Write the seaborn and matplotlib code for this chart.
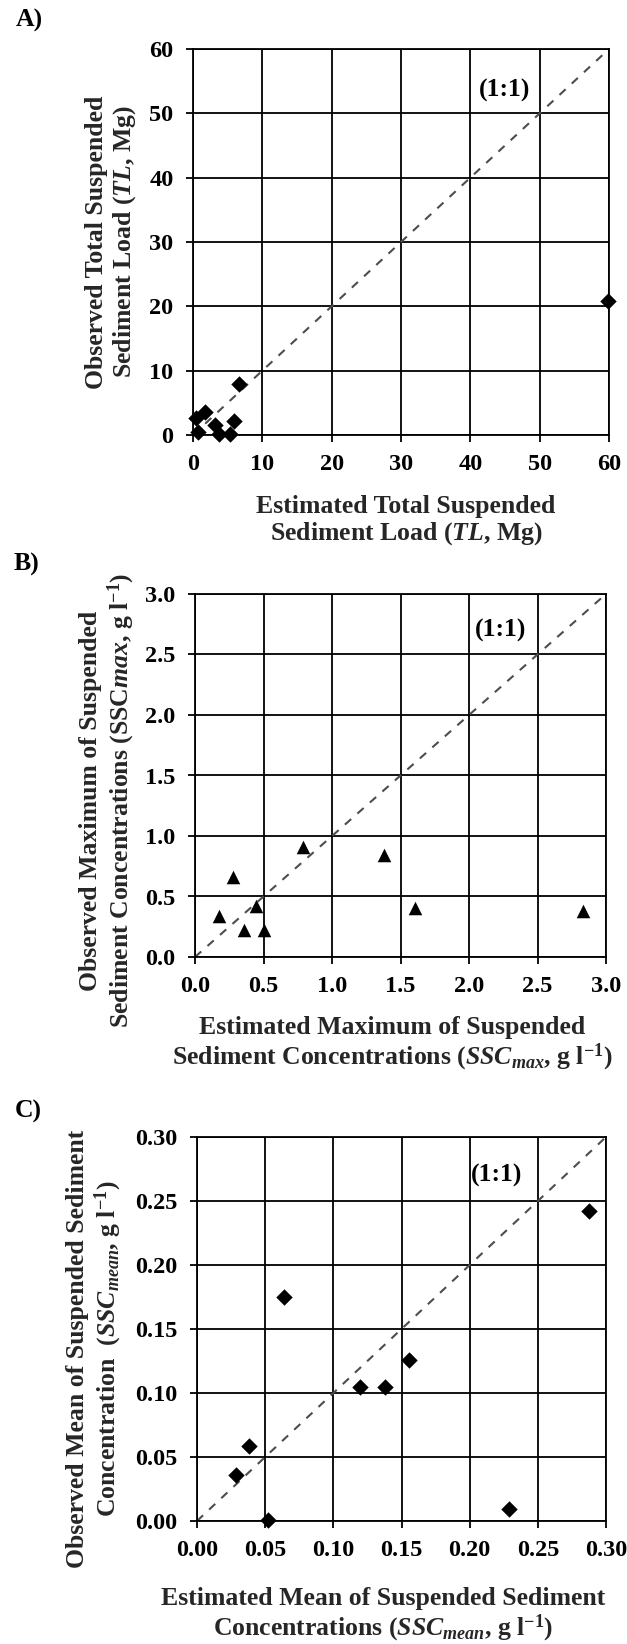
import matplotlib
matplotlib.use("Agg")
import matplotlib.pyplot as plt
import seaborn as sns
import pandas as pd
from matplotlib.ticker import FormatStrFormatter

# ---------------- data ----------------
a_est = [59.9, 6.7, 1.8, 0.4, 0.7, 3.2, 3.8, 5.4, 5.9]
a_obs = [20.8, 7.9, 3.5, 2.6, 0.5, 1.6, 0.2, 0.1, 2.1]

b_est = [0.175, 0.277, 0.356, 0.444, 0.502, 0.789, 1.379, 1.607, 2.834]
b_obs = [0.335, 0.660, 0.222, 0.423, 0.222, 0.912, 0.844, 0.409, 0.379]

c_est = [0.0285, 0.0379, 0.052, 0.0637, 0.1195, 0.1377, 0.1553, 0.2287, 0.2876]
c_obs = [0.0359, 0.0588, 0.0005, 0.1753, 0.1049, 0.1049, 0.1256, 0.0097, 0.2421]

panel_letters = ["A)", "B)", "C)"]
a_ticks = [0, 10, 20, 30, 40, 50, 60]
b_ticks = [0.0, 0.5, 1.0, 1.5, 2.0, 2.5, 3.0]
c_ticks = [0.00, 0.05, 0.10, 0.15, 0.20, 0.25, 0.30]

a_xlabel = "Estimated Total Suspended\nSediment Load ($\\mathit{TL}$, Mg)"
a_ylabel = "Observed Total Suspended\nSediment Load ($\\mathit{TL}$, Mg)"
b_xlabel = ("Estimated Maximum of Suspended\n"
            "Sediment Concentrations ($\\mathit{SSC}_{\\mathit{max}}$, g l$^{-1}$)")
b_ylabel = ("Observed Maximum of Suspended\n"
            "Sediment Concentrations (SSC$\\mathit{max}$, g l$^{-1}$)")
c_xlabel = ("Estimated Mean of Suspended Sediment\n"
            "Concentrations ($\\mathit{SSC}_{\\mathit{mean}}$, g l$^{-1}$)")
c_ylabel = ("Observed Mean of Suspended Sediment\n"
            "Concentration  ($\\mathit{SSC}_{\\mathit{mean}}$, g l$^{-1}$)")

# ---------------- style ----------------
sns.set_theme(style="ticks")
plt.rcParams["font.family"] = ["Liberation Serif", "DejaVu Serif"]
plt.rcParams["font.weight"] = "bold"
plt.rcParams["axes.labelweight"] = "bold"
plt.rcParams["mathtext.fontset"] = "custom"
plt.rcParams["mathtext.rm"] = "Liberation Serif:bold"
plt.rcParams["mathtext.bf"] = "Liberation Serif:bold"
plt.rcParams["mathtext.it"] = "Liberation Serif:italic:bold"

fig = plt.figure(figsize=(6.27, 16.44), dpi=100)
W, H = 627.0, 1644.0

def make_ax(left, right, top, bottom):
    return fig.add_axes([left / W, 1 - bottom / H, (right - left) / W, (bottom - top) / H])

axA = make_ax(193, 609, 49, 435)
axB = make_ax(195, 606, 594, 957)
axC = make_ax(197, 606, 1137, 1521)

LW = 1.3
TICK_FS = 17.5
LAB_FS = 18.5

panels = [
    (axA, a_est, a_obs, "D", 70, a_ticks, "%d", a_xlabel, a_ylabel,
     (0.512, -0.155), (-0.132, 0.50), (45, 53.5)),
    (axB, b_est, b_obs, "^", 95, b_ticks, "%.1f", b_xlabel, b_ylabel,
     (0.479, -0.163), (-0.141, 0.43), (2.23, 2.70)),
    (axC, c_est, c_obs, "D", 70, c_ticks, "%.2f", c_xlabel, c_ylabel,
     (0.455, -0.172), (-0.178, 0.448), (0.22, 0.270)),
]

for (ax, xe, yo, mk, sz, ticks, fmt, xl, yl, xlpos, ylpos, txtpos) in panels:
    lo, hi = ticks[0], ticks[-1]
    ax.set_xlim(lo, hi)
    ax.set_ylim(lo, hi)
    ax.set_xticks(ticks)
    ax.set_yticks(ticks)
    ax.xaxis.set_major_formatter(FormatStrFormatter(fmt))
    ax.yaxis.set_major_formatter(FormatStrFormatter(fmt))
    ax.grid(True, color="black", linewidth=LW)
    ax.set_axisbelow(True)
    for sp in ax.spines.values():
        sp.set_color("black")
        sp.set_linewidth(LW)
    ax.tick_params(axis="both", direction="out", length=5, width=LW,
                   color="black", labelsize=TICK_FS, labelcolor="black", pad=9)
    for lab in ax.get_xticklabels() + ax.get_yticklabels():
        lab.set_fontweight("bold")

    # 1:1 line
    ax.plot([lo, hi], [lo, hi], color="#4d4d4d", linewidth=1.5,
            linestyle=(0, (4, 4)), zorder=2)
    ax.text(txtpos[0], txtpos[1], "(1:1)", ha="center", va="center",
            fontsize=LAB_FS, fontweight="bold", color="black", zorder=3)

    df = pd.DataFrame({"est": xe, "obs": yo})
    sns.scatterplot(data=df, x="est", y="obs", marker=mk, s=sz, color="black",
                    edgecolor="black", linewidth=0, ax=ax, zorder=5, clip_on=False,
                    legend=False)

    ax.set_xlabel(xl, fontsize=LAB_FS, fontweight="bold", linespacing=1.1)
    ax.set_ylabel(yl, fontsize=LAB_FS, fontweight="bold", linespacing=1.15)
    ax.xaxis.set_label_coords(*xlpos)
    ax.yaxis.set_label_coords(*ylpos)

# panel letters
for letter, (px, py) in zip(panel_letters, [(16, 20), (14, 564), (15, 1111)]):
    fig.text(px / W, 1 - py / H, letter, ha="left", va="center",
             fontsize=LAB_FS, fontweight="bold", color="black")

fig.savefig("out.png", dpi=100)
